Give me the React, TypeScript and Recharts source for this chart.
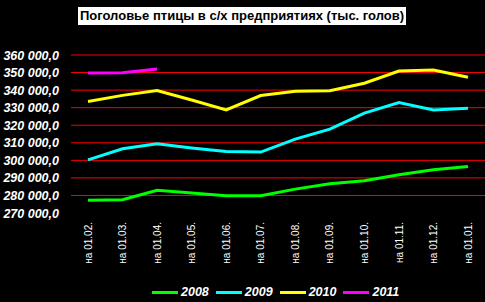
import { LineChart, Line, XAxis, YAxis, CartesianGrid } from "recharts";

const months = [
  "на 01.02.",
  "на 01.03.",
  "на 01.04.",
  "на 01.05.",
  "на 01.06.",
  "на 01.07.",
  "на 01.08.",
  "на 01.09.",
  "на 01.10.",
  "на 01.11.",
  "на 01.12.",
  "на 01.01.",
];

const s2008 = [277200, 277600, 282900, 281400, 279800, 279800, 283600, 286700, 288400, 291800, 294600, 296500];
const s2009 = [300300, 306600, 309400, 307000, 305000, 304700, 312100, 317800, 326900, 332900, 328700, 329700];
const s2010 = [333500, 337000, 339700, 334400, 328700, 336900, 339400, 339600, 343900, 350900, 351500, 347300];
const s2011 = [349800, 349900, 352000];

const yTicks = [270000, 280000, 290000, 300000, 310000, 320000, 330000, 340000, 350000, 360000];
const gridValues = [280000, 290000, 300000, 310000, 320000, 330000, 340000, 350000, 360000];

const series = [
  { key: "y2008", name: "2008", color: "#00ff00", values: s2008 },
  { key: "y2009", name: "2009", color: "#00ffff", values: s2009 },
  { key: "y2010", name: "2010", color: "#ffff00", values: s2010 },
  { key: "y2011", name: "2011", color: "#ff00ff", values: s2011 },
];

const data = months.map((m, i) => {
  const row: Record<string, string | number | undefined> = { month: m };
  series.forEach((s) => {
    row[s.key] = s.values[i];
  });
  return row;
});

const font = "'Liberation Sans', Arial, sans-serif";

function fmt(v: number) {
  return `${Math.round(v / 1000)} 000,0`;
}

function YTick(props: any) {
  const { x, y, payload } = props;
  return (
    <text
      x={x}
      y={y}
      dy="0.36em"
      textAnchor="end"
      fill="#ffffff"
      fontFamily={font}
      fontSize={12.5}
      fontWeight="bold"
      fontStyle="italic"
    >
      {fmt(payload.value)}
    </text>
  );
}

function XTick(props: any) {
  const { x, y, payload } = props;
  return (
    <g transform={`translate(${x},${y})`}>
      <text
        transform="rotate(-90)"
        textAnchor="end"
        dy="0.36em"
        fill="#ffffff"
        fontFamily={font}
        fontSize={10}
      >
        {payload.value}
      </text>
    </g>
  );
}

export default function App() {
  return (
    <div
      style={{
        position: "absolute",
        left: 0,
        top: 0,
        width: 485,
        height: 302,
        background: "#000000",
        fontFamily: font,
      }}
    >
      <div
        style={{
          position: "absolute",
          left: 78,
          top: 7,
          width: 328,
          height: 18,
          background: "#ffffff",
          color: "#000000",
          fontWeight: "bold",
          fontSize: 13,
          lineHeight: "18px",
          textAlign: "center",
          whiteSpace: "nowrap",
        }}
      >
        Поголовье птицы в с/х предприятиях (тыс. голов)
      </div>
      <LineChart
        width={485}
        height={302}
        data={data}
        margin={{ top: 55, right: 0, left: 0, bottom: 0 }}
      >
        <CartesianGrid
          vertical={false}
          stroke="#ff0000"
          strokeWidth={1}
          horizontalValues={gridValues}
        />
        <XAxis
          dataKey="month"
          height={89}
          interval={0}
          padding={{ left: 17, right: 17 }}
          axisLine={false}
          tickLine={false}
          tickSize={0}
          tickMargin={9}
          tick={<XTick />}
        />
        <YAxis
          domain={[270000, 360000]}
          ticks={yTicks}
          interval={0}
          width={71}
          axisLine={false}
          tickLine={false}
          tickSize={0}
          tickMargin={12}
          tick={<YTick />}
        />
        {series.map((s) => (
          <Line
            key={s.key}
            type="linear"
            dataKey={s.key}
            name={s.name}
            stroke={s.color}
            strokeWidth={3}
            dot={false}
            isAnimationActive={false}
          />
        ))}
      </LineChart>
      <div
        style={{
          position: "absolute",
          left: 152,
          top: 283,
          height: 18,
          display: "flex",
          alignItems: "center",
        }}
      >
        {series.map((s) => (
          <div key={s.key} style={{ display: "flex", alignItems: "center", marginRight: 7 }}>
            <div style={{ width: 26, height: 3, background: s.color }} />
            <span
              style={{
                marginLeft: 3,
                color: "#ffffff",
                fontWeight: "bold",
                fontStyle: "italic",
                fontSize: 12.5,
              }}
            >
              {s.name}
            </span>
          </div>
        ))}
      </div>
    </div>
  );
}
